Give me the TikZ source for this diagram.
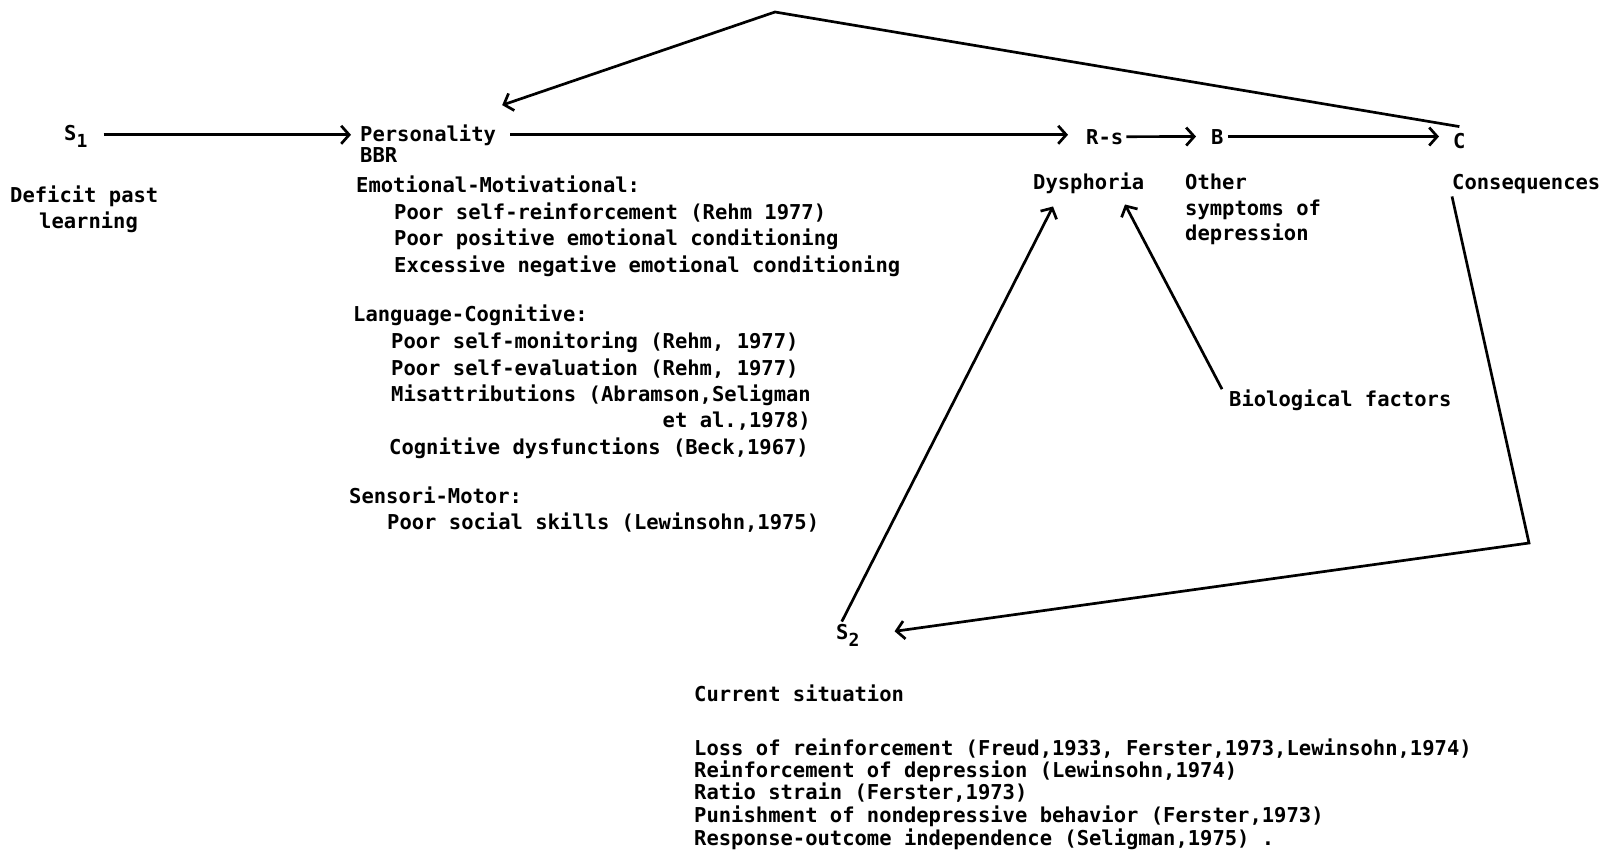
\documentclass[tikz,border=0pt]{standalone}
\usepackage{fontspec}
\setmonofont{DejaVu Sans Mono}
\usetikzlibrary{arrows.meta,positioning}

\tikzset{
  txt/.style={anchor=base west, inner sep=0pt, font=\ttfamily\bfseries\fontsize{20.5}{25}\selectfont},
  arr/.style={line width=2.7pt, -{Straight Barb[length=8pt,width=18pt]}},
}
\newcommand{\lowsub}[1]{\raisebox{-0.7ex}{\fontsize{18}{18}\selectfont #1}}

\begin{document}
\begin{tikzpicture}[x=1pt,y=-1pt]
  \useasboundingbox (0,0) rectangle (1606,859);

  % main chain
  \node[txt] (s1) at (64,140) {S\lowsub{1}};
  \node[txt] (pers) at (360,141) {Personality};
  \node[txt] (bbr) at (360,162) {BBR};
  \node[txt] (rs) at (1086,144) {R-s};
  \node[txt] (b) at (1211,144) {B};
  \node[txt] (c) at (1453,148) {C};

  \node[txt] (def1) at (10,202) {Deficit past};
  \node[txt] (def2) at (39,228) {learning};

  \node[txt] (dys) at (1033,189) {Dysphoria};
  \node[txt] (oth1) at (1185,189) {Other};
  \node[txt] (oth2) at (1185,215) {symptoms of};
  \node[txt] (oth3) at (1185,240) {depression};
  \node[txt] (cons) at (1452,189) {Consequences};
  \node[txt] (bio) at (1229,406) {Biological factors};

  \node[txt] (s2) at (836,639) {S\lowsub{2}};

  % personality repertoires
  \node[txt] (emo) at (356,192) {Emotional-Motivational:};
  \foreach \yy/\tx [count=\i] in {219/{Poor self-reinforcement (Rehm 1977)},
      245/{Poor positive emotional conditioning},
      272/{Excessive negative emotional conditioning}}
    \node[txt] (emo-\i) at (394,\yy) {\tx};

  \node[txt] (lang) at (353,321) {Language-Cognitive:};
  \foreach \yy/\tx [count=\i] in {348/{Poor self-monitoring (Rehm, 1977)},
      375/{Poor self-evaluation (Rehm, 1977)},
      401/{Misattributions (Abramson,Seligman}}
    \node[txt] (lang-\i) at (391,\yy) {\tx};
  \node[txt, anchor=base east] (lang-4) at (lang-3.base east |- 0,427) {et al.,1978)};
  \node[txt] (lang-5) at (389,454) {Cognitive dysfunctions (Beck,1967)};

  \node[txt] (sens) at (349,503) {Sensori-Motor:};
  \node[txt] (sens-1) at (387,529) {Poor social skills (Lewinsohn,1975)};

  % current situation
  \node[txt] (cur) at (694,701) {Current situation};
  \foreach \yy/\tx [count=\i] in {755/{Loss of reinforcement (Freud,1933, Ferster,1973,Lewinsohn,1974)},
      777/{Reinforcement of depression (Lewinsohn,1974)},
      799/{Ratio strain (Ferster,1973)},
      822/{Punishment of nondepressive behavior (Ferster,1973)},
      845/{Response-outcome independence (Seligman,1975) .}}
    \node[txt] (cur-\i) at (694,\yy) {\tx};

  \coordinate (apex) at (775,12);
  \coordinate (corner) at (1529,543);

  % arrows
  \draw[arr] ([xshift=16pt]s1.east |- pers.west) -- ([xshift=-9pt]pers.west);
  \draw[arr] ([xshift=14pt]pers.east) -- ([xshift=-18pt]rs.west |- pers.east);
  \draw[arr] ([xshift=3pt]rs.east) -- ([xshift=-15pt]b.west);
  \draw[arr] ([xshift=4pt]b.east) -- ([xshift=-14pt]c.west |- b.east);
  \draw[arr] ([yshift=6pt]c.north) -- (apex) -- ([xshift=6pt,yshift=19pt]pers.north east);
  \draw[arr] ([yshift=-3pt]cons.south west) -- (corner) -- ([xshift=35pt,yshift=4pt]s2.east);
  \draw[arr] ([xshift=-6pt,yshift=2pt]s2.north) -- ([xshift=20pt,yshift=-13pt]dys.south west);
  \draw[arr] ([xshift=-7pt]bio.north west) -- ([xshift=92pt,yshift=-11pt]dys.south west);
\end{tikzpicture}
\end{document}
